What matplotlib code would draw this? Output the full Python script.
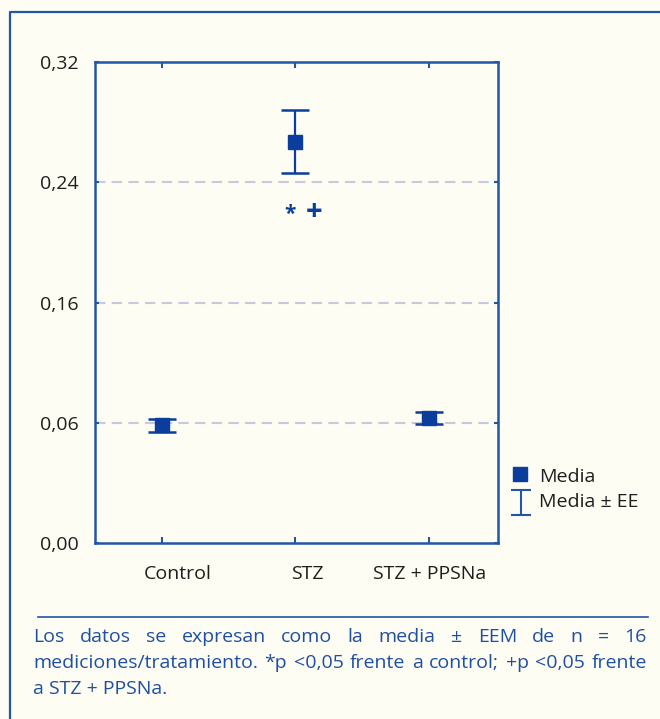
import matplotlib as mpl
mpl.use('Agg')
import matplotlib.pyplot as plt
import matplotlib.transforms as mtrans
from matplotlib.lines import Line2D

# datos (unidades del eje)
grupos = ['Control', 'STZ', 'STZ + PPSNa']
medias = [0.0785, 0.2670, 0.0832]
ee_sup = [0.0825, 0.2880, 0.0870]
ee_inf = [0.0739, 0.2460, 0.0790]
yticks = [0.0, 0.08, 0.16, 0.24, 0.32]
ytick_lab = ['0,00', '0,06', '0,16', '0,24', '0,32']
grid_y = [0.08, 0.16, 0.24]

fondo = '#fdfdf3'
azul = '#0a3d9c'
azul_eje = '#2356a8'
azul_txt = '#1f4fa3'
plt.rcParams['font.family'] = ['Open Sans', 'DejaVu Sans']

W, H = 660, 719
fig = plt.figure(figsize=(W/100, H/100), dpi=100, facecolor=fondo)

ax = fig.add_axes([95/W, 1-543/H, 403/W, 481/H], facecolor=fondo)
x = list(range(len(grupos)))
err = [[m - lo for m, lo in zip(medias, ee_inf)], [hi - m for m, hi in zip(medias, ee_sup)]]
for g in grid_y:
	ax.axhline(g, color='#c9c9dd', lw=1.5, dashes=(5, 3), zorder=1)
ax.errorbar(x, medias, yerr=err, fmt='s', color=azul, ms=10, capsize=10,
	elinewidth=1.6, capthick=1.8, zorder=3)
ax.set_xlim(-0.5, 2.52)
ax.set_ylim(0, 0.32)
ax.set_xticks(x)
ax.set_xticklabels(grupos)
ax.set_yticks(yticks)
ax.set_yticklabels(ytick_lab)
ax.tick_params(axis='x', direction='in', length=4, width=1.5, color=azul_eje,
	top=True, pad=16, labelsize=14, labelcolor='#1e1e1e')
ax.tick_params(axis='y', direction='in', length=3, width=1.5, color=azul_eje,
	right=True, pad=12, labelsize=14, labelcolor='#1e1e1e')
# las etiquetas del original no quedan centradas sobre la marca
for lab, dx in zip(ax.get_xticklabels(), [16, 12, 1]):
	lab.set_transform(lab.get_transform() + mtrans.ScaledTranslation(dx/100, 0, fig.dpi_scale_trans))
for s in ax.spines.values():
	s.set_color(azul_eje)
	s.set_linewidth(1.8)

# significacion sobre STZ
ax.text(1 - 0.04, 0.2185, '*', ha='center', va='center', color=azul, fontsize=15,
	fontweight='bold')
ax.text(1 + 0.14, 0.2202, '+', ha='center', va='center', color=azul, fontsize=21,
	fontweight='bold')

# leyenda
lg = fig.add_axes([0, 0, 1, 1], facecolor='none')
lg.set_xlim(0, W)
lg.set_ylim(H, 0)
lg.axis('off')
lg.plot([520], [474], 's', color=azul, ms=10)
lg.errorbar([521], [502], yerr=[[12], [13]], fmt='none', color=azul_eje, capsize=7,
	elinewidth=1.5, capthick=1.5)
lg.text(539, 477, 'Media', va='center', ha='left', fontsize=14, color='#1e1e1e')
lg.text(539, 502, 'Media ± EE', va='center', ha='left', fontsize=14, color='#1e1e1e')

# marco exterior y linea del pie
lg.add_line(Line2D([10, 10, W], [H, 12, 12], color=azul_eje, lw=1.6))
lg.add_line(Line2D([38, 648], [617, 617], color=azul_eje, lw=1.2))

# pie de figura justificado
lineas = ['Los datos se expresan como la media ± EEM de n = 16',
	'mediciones/tratamiento. *p <0,05 frente a control; +p <0,05 frente',
	'a STZ + PPSNa.']
x0, x1 = 33, 647
ys = [637, 663, 689]
fs = 14
fig.canvas.draw()
r = fig.canvas.get_renderer()
for i, (ln, yy) in enumerate(zip(lineas, ys)):
	if i == len(lineas) - 1:
		lg.text(x0, yy, ln, va='center', ha='left', fontsize=fs, color=azul_txt)
		continue
	pal = ln.split(' ')
	ts = [lg.text(0, yy, p, va='center', ha='left', fontsize=fs, color=azul_txt) for p in pal]
	anchos = [t.get_window_extent(r).width for t in ts]
	hueco = ((x1 - x0) - sum(anchos)) / (len(pal) - 1)
	xx = x0
	for t, a in zip(ts, anchos):
		t.set_x(xx)
		xx += a + hueco

fig.savefig('out.png', dpi=100, facecolor=fondo)
